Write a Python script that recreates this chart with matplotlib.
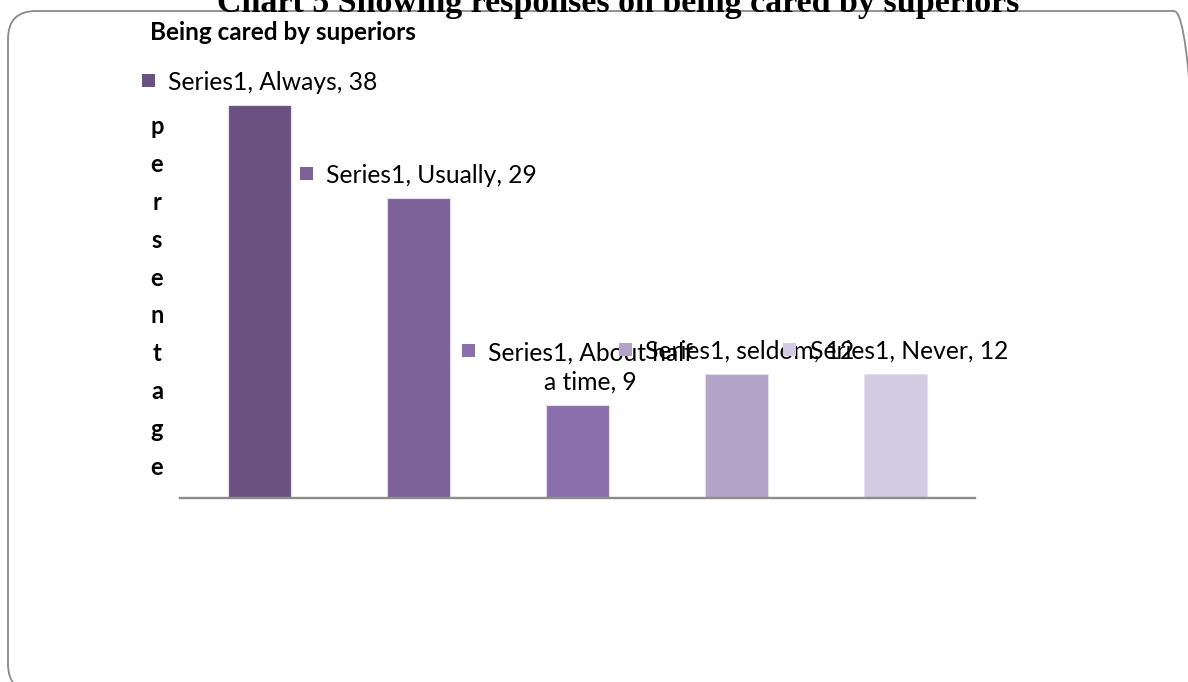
import matplotlib
matplotlib.use("Agg")
import matplotlib.pyplot as plt
import numpy as np
from matplotlib.patches import FancyBboxPatch, Rectangle
from matplotlib.offsetbox import AnnotationBbox, HPacker, TextArea, DrawingArea

# Datos
categories = ["Always", "Usually", "About half\na time", "seldom", "Never"]
values = [38, 29, 9, 12, 12]
series_name = "Series1"
bar_colors = ["#6A5182", "#7C6299", "#8B70AD", "#B3A3C9", "#D3CBE1"]
title = "Chart 5 Showing responses on being cared by superiors"
subtitle = "Being cared by superiors"
ylabel = "persentage"

fig = plt.figure(figsize=(11.88, 6.82), dpi=100)
ax = fig.add_axes([180/1188, 1-498/682, 795/1188, 413.6/682])

x = np.arange(len(values))
ax.bar(x, values, width=0.4, color=bar_colors, edgecolor="#E4DEEC", linewidth=0.8, zorder=2)
ax.set_xlim(-0.5, len(values) - 0.5)
ax.set_ylim(0, 40)
for s in ["left", "right", "top"]:
    ax.spines[s].set_visible(False)
ax.spines["bottom"].set_color("#8C8C8C")
ax.spines["bottom"].set_linewidth(1.7)
ax.set_xticks([])
ax.set_yticks([])

# etiquetas de datos (cuadrado + texto), centradas sobre cada barra
for xi, v, cat, col in zip(x, values, categories, bar_colors):
    da = DrawingArea(10, 11.5, 0, 0)
    da.add_artist(Rectangle((0, 0), 9.5, 9.5, facecolor=col, edgecolor="none"))
    lines = cat.split("\n")
    txt = f"{series_name}, {lines[0]}"
    if len(lines) > 1:
        txt += "\n" + lines[1] + f", {v}"
    else:
        txt += f", {v}"
    ta = TextArea(txt, textprops=dict(fontsize=17.7, family="Lato", color="black",
                                      multialignment="center", linespacing=1.35))
    pack = HPacker(children=[da, ta], sep=9, align="top", pad=0)
    ab = AnnotationBbox(pack, (xi, v), xybox=(0, 8), boxcoords="offset points",
                        box_alignment=(0.5, 0), frameon=False, annotation_clip=False)
    ax.add_artist(ab)

# eje y: letras apiladas
letters = list(ylabel)
ys = np.linspace(0.880, 0.0556, len(letters))
for ch, yy in zip(letters, ys):
    ax.text(-0.029, yy, ch, transform=ax.transAxes, ha="center", va="baseline",
            fontsize=17, fontweight="bold", family="Lato")

# subtitulo y titulo
fig.text(150/1188, 1-33/682, subtitle, ha="left", va="center", fontsize=17.5,
         fontweight="bold", family="Lato")
fig.text(618/1188, 1-12/682, title, ha="center", va="baseline", fontsize=24.5,
         fontweight="bold", family="Liberation Serif")

# marco redondeado
frame = FancyBboxPatch((0.08, -0.10), 11.94, 6.81,
                       boxstyle="round,pad=0,rounding_size=0.28",
                       transform=fig.dpi_scale_trans, facecolor="none",
                       edgecolor="#8A8A8A", linewidth=1.3, clip_on=False)
fig.patches.append(frame)

plt.savefig("out.png", dpi=100)
